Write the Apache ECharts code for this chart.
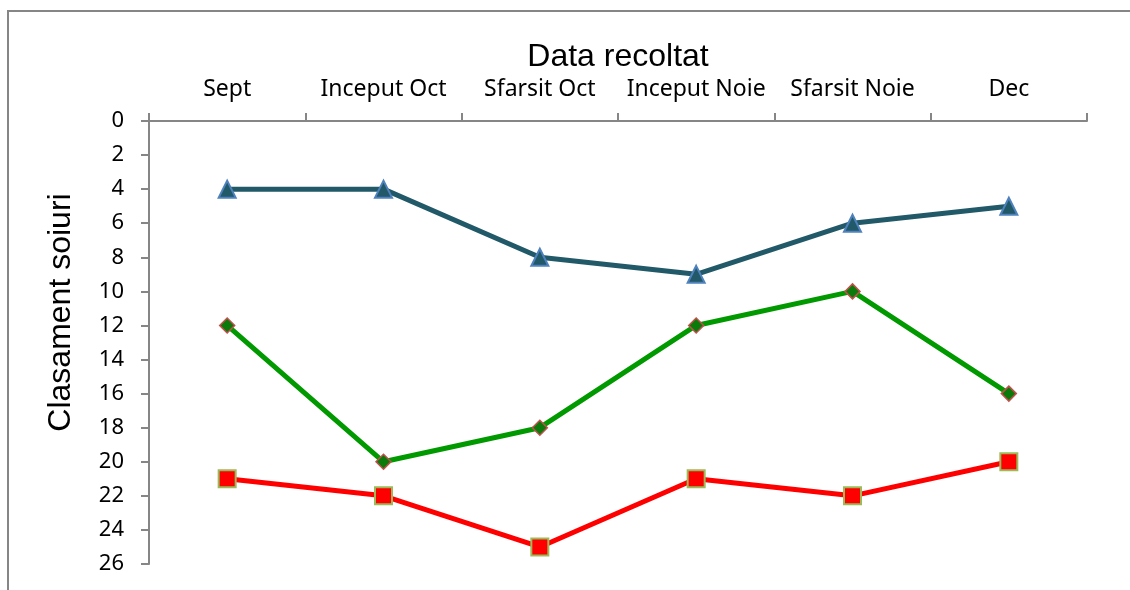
<!DOCTYPE html>
<html>
<head>
<meta charset="utf-8">
<script src="https://cdn.jsdelivr.net/npm/echarts@6/dist/echarts.min.js"></script>
<style>
  html, body { margin: 0; padding: 0; background: #fff; }
  #chart { width: 1130px; height: 590px; }
</style>
</head>
<body>
<div id="chart"></div>
<script>
// data
var categories = ['Sept', 'Inceput Oct', 'Sfarsit Oct', 'Inceput Noie', 'Sfarsit Noie', 'Dec'];
var serieAlbastra = [4, 4, 8, 9, 6, 5];
var serieVerde = [12, 20, 18, 12, 10, 16];
var serieRosie = [21, 22, 25, 21, 22, 20];

var axisGray = '#868686';
var font = '"Noto Sans", "Open Sans", sans-serif';

var myChart = echarts.init(document.getElementById('chart'));
myChart.setOption({
    animation: false,
    graphic: [{
        type: 'rect',
        shape: { x: 8, y: 11, width: 1400, height: 800 },
        style: { fill: 'none', stroke: axisGray, lineWidth: 2 },
        silent: true
    }],
    grid: { left: 149, top: 121, width: 938, height: 443 },
    xAxis: {
        type: 'category',
        position: 'top',
        data: categories,
        boundaryGap: true,
        name: 'Data recoltat',
        nameLocation: 'middle',
        nameGap: 40,
        nameTextStyle: { fontFamily: 'Liberation Sans', fontSize: 32, color: '#000' },
        axisLine: { lineStyle: { color: axisGray, width: 2 } },
        axisTick: { show: true, alignWithLabel: false, length: 8, lineStyle: { color: axisGray, width: 2 } },
        axisLabel: { fontFamily: font, fontSize: 23, color: '#000', margin: 20, interval: 0 }
    },
    yAxis: {
        type: 'value',
        inverse: true,
        min: 0,
        max: 26,
        interval: 2,
        name: 'Clasament soiuri',
        nameLocation: 'middle',
        nameGap: 72,
        nameRotate: 90,
        nameTextStyle: { fontFamily: 'Liberation Sans', fontSize: 32, color: '#000', padding: [0, 0, 0, 60] },
        splitLine: { show: false },
        axisLine: { show: true, lineStyle: { color: axisGray, width: 2 } },
        axisTick: { show: true, length: 8, lineStyle: { color: axisGray, width: 2 } },
        axisLabel: { fontFamily: font, fontSize: 22, color: '#000', margin: 25 }
    },
    series: [
        {
            name: 'albastru',
            type: 'line',
            data: serieAlbastra,
            symbol: 'triangle',
            symbolSize: 17,
            lineStyle: { color: '#215968', width: 5 },
            itemStyle: { color: '#215968', borderColor: '#4F81BD', borderWidth: 2 }
        },
        {
            name: 'verde',
            type: 'line',
            data: serieVerde,
            symbol: 'diamond',
            symbolSize: 15,
            lineStyle: { color: '#009900', width: 5 },
            itemStyle: { color: '#0A7A0A', borderColor: '#C0504D', borderWidth: 1.5 }
        },
        {
            name: 'rosu',
            type: 'line',
            data: serieRosie,
            symbol: 'rect',
            symbolSize: 17,
            lineStyle: { color: '#FF0000', width: 5 },
            itemStyle: { color: '#FF0000', borderColor: '#9BBB59', borderWidth: 2 }
        }
    ]
});
</script>
</body>
</html>
